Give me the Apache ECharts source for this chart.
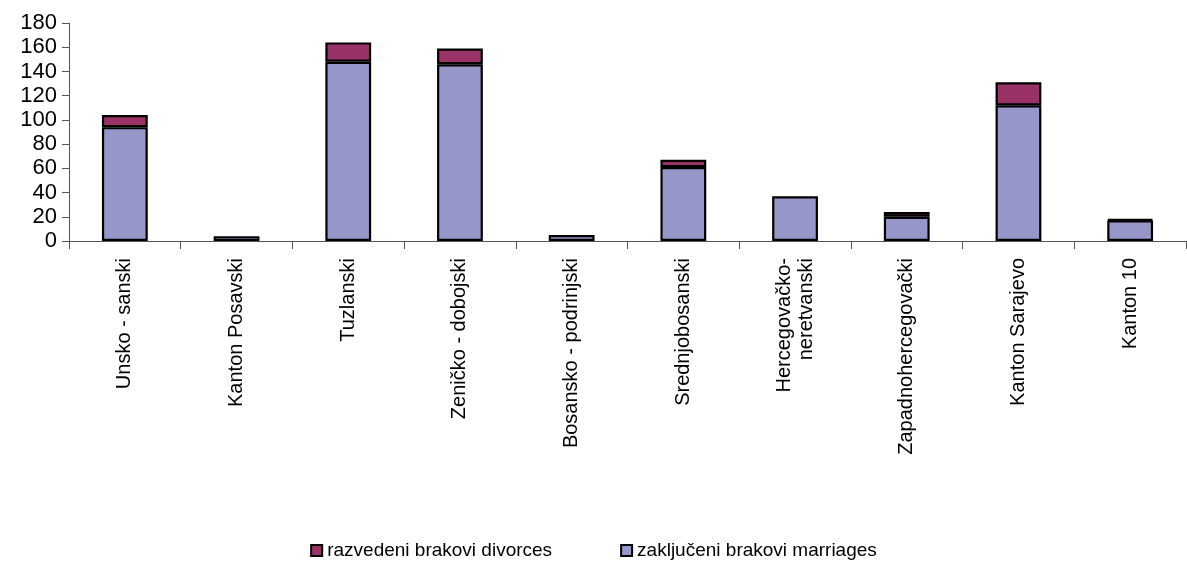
<!DOCTYPE html>
<html>
<head>
<meta charset="utf-8">
<script src="https://cdn.jsdelivr.net/npm/echarts@6/dist/echarts.min.js"></script>
<style>html,body{margin:0;padding:0;background:#fff;}#c{width:1187px;height:561px;}</style>
</head>
<body>
<div id="c"></div>
<script>
const categories = ['Unsko - sanski','Kanton Posavski','Tuzlanski','Zeničko - dobojski','Bosansko - podrinjski','Srednjobosanski','Hercegovačko-\nneretvanski','Zapadnohercegovački','Kanton Sarajevo','Kanton 10'];
const marriages = [94, 4, 148, 146, 5, 61, 37, 20, 112, 17];
const divorces = [10, 0, 16, 13, 0, 6, 0, 4, 19, 1];
const yTicks = {min: 0, max: 180, interval: 20};
const seriesNames = ['razvedeni brakovi divorces', 'zaključeni brakovi marriages'];

const chart = echarts.init(document.getElementById('c'), null, {renderer: 'canvas'});
const font = 'Liberation Sans, Arial, sans-serif';
const toItems = arr => arr.map(v => v === 0 ? {value: v, itemStyle: {borderWidth: 0}} : v);
chart.setOption({
  animation: false,
  backgroundColor: '#fff',
  grid: {left: 69, right: 1, top: 23, bottom: 320, containLabel: false},
  legend: {
    data: seriesNames,
    top: 536,
    left: 'center',
    itemWidth: 11,
    itemHeight: 11,
    itemGap: 68,
    icon: 'rect',
    textStyle: {fontFamily: font, fontSize: 19, color: '#000'},
    itemStyle: {borderColor: '#000', borderWidth: 2}
  },
  xAxis: {
    type: 'category',
    data: categories,
    axisLine: {lineStyle: {color: '#555', width: 1}},
    axisTick: {show: true, length: 8, lineStyle: {color: '#555'}},
    axisLabel: {rotate: 90, interval: 0, fontFamily: font, fontSize: 20, color: '#000', margin: 17, lineHeight: 22}
  },
  yAxis: {
    type: 'value',
    min: yTicks.min, max: yTicks.max, interval: yTicks.interval,
    splitLine: {show: false},
    axisLine: {show: true, lineStyle: {color: '#555', width: 1}},
    axisTick: {show: true, length: 7, lineStyle: {color: '#555'}},
    axisLabel: {fontFamily: font, fontSize: 22, color: '#000', margin: 12}
  },
  series: [
    {
      name: seriesNames[1], type: 'bar', stack: 's', data: toItems(marriages), barWidth: '41%',
      itemStyle: {color: '#9696c8', borderColor: '#000', borderWidth: 2.2}
    },
    {
      name: seriesNames[0], type: 'bar', stack: 's', data: toItems(divorces), barWidth: '41%',
      itemStyle: {color: '#993366', borderColor: '#000', borderWidth: 2.2}
    }
  ]
});
</script>
</body>
</html>
